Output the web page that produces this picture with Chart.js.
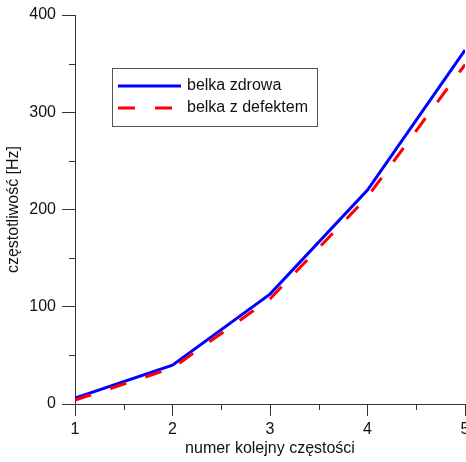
<!DOCTYPE html>
<html>
<head>
<meta charset="utf-8">
<script src="https://cdn.jsdelivr.net/npm/chart.js@4"></script>
<style>
  html, body { margin: 0; padding: 0; background: #fff; }
  #wrap { width: 466px; height: 462px; }
</style>
</head>
<body>
<div id="wrap"><canvas id="freqChart" width="466" height="462"></canvas></div>
<script>
const modes = [1, 2, 3, 4, 5];
const healthy = [6, 40, 113, 220, 364];
const damaged = [4, 37, 108, 213, 349];
const seriesNames = ["belka zdrowa", "belka z defektem"];
const xTitle = "numer kolejny częstości";
const yTitle = "częstotliwość [Hz]";

const axisColor = "#333";
const font = "Arial, 'Liberation Sans', sans-serif";

// minor ticks (half steps) drawn shorter than the major ones
const minorTicks = {
  id: 'minorTicks',
  afterDraw(chart) {
    const ctx = chart.ctx;
    const x = chart.scales.x, y = chart.scales.y;
    ctx.save();
    ctx.strokeStyle = axisColor;
    ctx.lineWidth = 1;
    x.ticks.forEach(t => {
      if (t.value % 1 === 0) return;
      const px = Math.round(x.getPixelForValue(t.value)) + 0.5;
      ctx.beginPath();
      ctx.moveTo(px, x.top);
      ctx.lineTo(px, x.top + 6);
      ctx.stroke();
    });
    y.ticks.forEach(t => {
      if (t.value % 100 === 0) return;
      const py = Math.round(y.getPixelForValue(t.value)) + 0.5;
      ctx.beginPath();
      ctx.moveTo(y.right, py);
      ctx.lineTo(y.right - 6, py);
      ctx.stroke();
    });
    ctx.restore();
  }
};

// framed legend inside the plot
const boxLegend = {
  id: 'boxLegend',
  afterDraw(chart) {
    const ctx = chart.ctx;
    const left = 112, top = 68, w = 205, h = 58;
    ctx.save();
    ctx.strokeStyle = "#555";
    ctx.lineWidth = 1;
    ctx.strokeRect(left + 0.5, top + 0.5, w, h);
    ctx.font = "16px " + font;
    ctx.textBaseline = "middle";
    ctx.fillStyle = "#111";
    chart.data.datasets.forEach((ds, i) => {
      const ly = top + 18 + i * 22;
      ctx.beginPath();
      ctx.strokeStyle = ds.borderColor;
      ctx.lineWidth = 3;
      ctx.setLineDash(ds.borderDash || []);
      ctx.moveTo(left + 6, ly);
      ctx.lineTo(left + 69, ly);
      ctx.stroke();
      ctx.setLineDash([]);
      ctx.fillText(ds.label, left + 75, ly);
    });
    ctx.restore();
  }
};

const ctx = document.getElementById('freqChart');
new Chart(ctx, {
  type: 'line',
  data: {
    datasets: [
      {
        label: seriesNames[0],
        data: modes.map((m, i) => ({ x: m, y: healthy[i] })),
        borderColor: "#0000ff",
        borderWidth: 3,
        pointRadius: 0,
        tension: 0,
        order: 1
      },
      {
        label: seriesNames[1],
        data: modes.map((m, i) => ({ x: m, y: damaged[i] })),
        borderColor: "#ff0000",
        borderWidth: 3,
        borderDash: [17, 20],
        borderCapStyle: 'butt',
        pointRadius: 0,
        tension: 0,
        order: 0
      }
    ]
  },
  options: {
    responsive: false,
    animation: false,
    layout: { padding: { top: 15, right: 1, left: 0, bottom: 0 } },
    plugins: {
      legend: { display: false },
      tooltip: { enabled: false }
    },
    scales: {
      x: {
        type: 'linear',
        min: 1,
        max: 5,
        afterFit(s) { s.height = 58; s.paddingLeft = 0; s.paddingRight = 0; },
        border: { display: true, color: axisColor, width: 1 },
        grid: {
          drawOnChartArea: false,
          tickLength: 12,
          color: c => (c.tick && c.tick.value % 1 === 0) ? axisColor : 'rgba(0,0,0,0)'
        },
        ticks: {
          stepSize: 0.5,
          padding: 4,
          color: "#111",
          font: { family: font, size: 16 },
          callback: v => v % 1 === 0 ? v : ''
        },
        title: {
          display: true,
          text: xTitle,
          color: "#111",
          font: { family: font, size: 16 },
          padding: { top: 0 }
        }
      },
      y: {
        min: 0,
        max: 400,
        afterFit(s) { s.width = 75; s.paddingTop = 0; s.paddingBottom = 0; },
        border: { display: true, color: axisColor, width: 1 },
        grid: {
          drawOnChartArea: false,
          tickLength: 13,
          color: c => (c.tick && c.tick.value % 100 === 0) ? axisColor : 'rgba(0,0,0,0)'
        },
        ticks: {
          stepSize: 50,
          padding: 6,
          color: "#111",
          font: { family: font, size: 16 },
          callback: v => v % 100 === 0 ? v : ''
        },
        title: {
          display: true,
          text: yTitle,
          color: "#111",
          font: { family: font, size: 16 },
          padding: { bottom: 0 }
        }
      }
    }
  },
  plugins: [minorTicks, boxLegend]
});
</script>
</body>
</html>
